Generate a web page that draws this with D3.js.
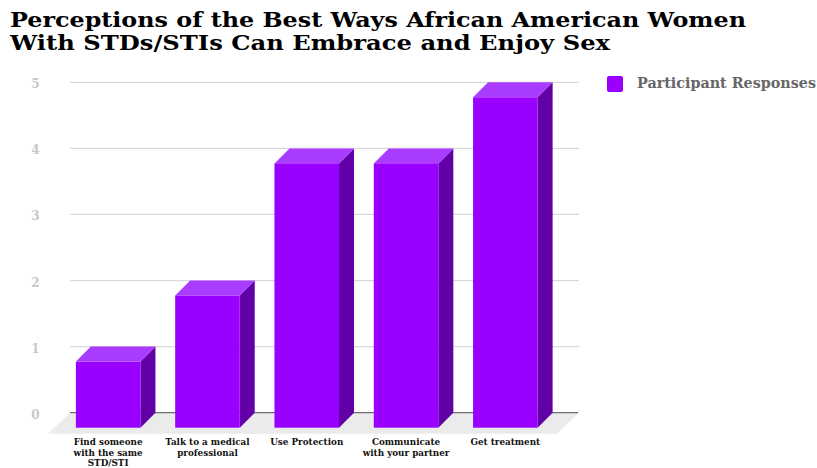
<!DOCTYPE html>
<html><head><meta charset="utf-8">
<script src="https://cdn.jsdelivr.net/npm/d3@7"></script>
<style>body{margin:0;background:#fff}</style>
</head><body>
<svg id="chart" width="817" height="468"></svg>
<script>
const categories = [
  ["Find someone","with the same","STD/STI"],
  ["Talk to a medical","professional"],
  ["Use Protection"],
  ["Communicate","with your partner"],
  ["Get treatment"]
];
const values = [1, 2, 4, 4, 5];
const yTicks = [0, 1, 2, 3, 4, 5];
const seriesName = "Participant Responses";
const titleLines = ["Perceptions of the Best Ways African American Women", "With STDs/STIs Can Embrace and Enjoy Sex"];

const svg = d3.select("#chart");
const serif = "'DejaVu Serif', Georgia, serif";
const depth = 15;       // bar 3D offset
const floorD = 21;      // floor depth

const y = d3.scaleLinear().domain([0, 5]).range([412.7, 82.3]);
const x = d3.scaleBand().domain(d3.range(values.length)).range([73.5, 570]).paddingInner(0.35).paddingOuter(0.175);

const gridL = 70, gridR = 579;

// floor
svg.append("path")
  .attr("d", `M${gridL},${y(0)} L${gridR},${y(0)} L${gridR - floorD - 1},${y(0) + floorD} L${gridL - floorD - 1},${y(0) + floorD} Z`)
  .attr("fill", "#ebebeb");

// gridlines
svg.append("g").selectAll("line").data(yTicks.filter(d => d > 0)).join("line")
  .attr("x1", gridL).attr("x2", gridR)
  .attr("y1", d => y(d)).attr("y2", d => y(d))
  .attr("stroke", "#d9d9d9").attr("stroke-width", 1.3);
svg.append("line").attr("x1", gridL).attr("x2", gridR - 1).attr("y1", y(0)).attr("y2", y(0))
  .attr("stroke", "#6e6e6e").attr("stroke-width", 1.3);

// y tick labels
svg.append("g").selectAll("text").data(yTicks).join("text")
  .attr("x", 35.5).attr("y", d => y(d) + 6)
  .attr("text-anchor", "middle")
  .attr("font-family", serif).attr("font-weight", "bold").attr("font-size", 12)
  .attr("fill", "#c8c8c8").text(d => d);

// bars
const bars = svg.append("g").selectAll("g").data(values).join("g");
bars.each(function(v, i) {
  const g = d3.select(this);
  const bx = x(i) - depth;            // front face left
  const w = x.bandwidth();
  const top = y(v) + depth;           // front face top
  const bot = y(0) + depth;
  g.append("path").attr("d", `M${bx + w},${top} L${bx + w + depth},${top - depth} L${bx + w + depth},${bot - depth} L${bx + w},${bot} Z`)
    .attr("fill", "#6200a8");
  g.append("path").attr("d", `M${bx},${top} L${bx + depth},${top - depth} L${bx + w + depth},${top - depth} L${bx + w},${top} Z`)
    .attr("fill", "#a93cff");
  g.append("rect").attr("x", bx).attr("y", top).attr("width", w).attr("height", bot - top)
    .attr("fill", "#9900ff");
});

// x labels
const labels = svg.append("g").selectAll("text").data(categories).join("text")
  .attr("text-anchor", "middle")
  .attr("font-family", serif).attr("font-weight", "bold").attr("font-size", 8.8)
  .attr("fill", "#111");
labels.each(function(lines, i) {
  const t = d3.select(this);
  const cx = x(i) - depth + x.bandwidth() / 2;
  lines.forEach((l, k) => {
    t.append("tspan").attr("x", cx).attr("y", 445.2 + k * 10.3).text(l);
  });
});

// title
svg.append("g").selectAll("text").data(titleLines).join("text")
  .attr("x", 10).attr("y", (d, i) => 27.3 + i * 22.7)
  .attr("font-family", serif).attr("font-weight", "bold").attr("font-size", 20.5)
  .attr("fill", "#000")
  .attr("textLength", (d, i) => i === 0 ? 736 : 600)
  .attr("lengthAdjust", "spacingAndGlyphs")
  .text(d => d);

// legend
svg.append("rect").attr("x", 607).attr("y", 76).attr("width", 16).attr("height", 16).attr("rx", 2)
  .attr("fill", "#9900ff");
svg.append("text").attr("x", 637).attr("y", 88)
  .attr("font-family", serif).attr("font-weight", "bold").attr("font-size", 14)
  .attr("textLength", 179).attr("lengthAdjust", "spacingAndGlyphs")
  .attr("fill", "#666").text(seriesName);
</script>
</body></html>
